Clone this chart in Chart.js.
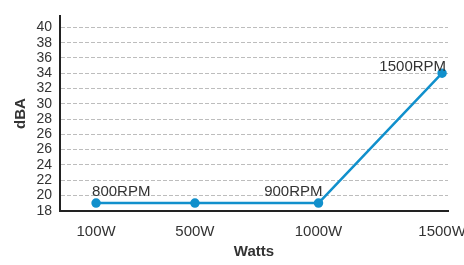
<!DOCTYPE html>
<html>
<head>
<meta charset="utf-8">
<script src="https://cdn.jsdelivr.net/npm/chart.js@4/dist/chart.umd.min.js"></script>
<style>
  html, body { margin: 0; padding: 0; background: #fff; }
  #wrap { width: 464px; height: 265px; }
</style>
</head>
<body>
<div id="wrap"><canvas id="noise-chart"></canvas></div>
<script>
// Fan noise vs. PSU load
const wattLabels = ['100W', '500W', '1000W', '1500W'];
const watts = [100, 500, 1000, 1500];
const dBA = [19, 19, 19, 34];
const rpmLabels = ['800RPM', '', '900RPM', '1500RPM'];
// y tick labels bottom to top, as printed (26 appears twice)
const yTickLabels = ['18', '20', '22', '24', '26', '26', '28', '30', '32', '34', '36', '38', '40'];

const FONT = "'Liberation Sans', Arial, sans-serif";
const BLUE = '#1190cc';

// map a dBA value onto the printed tick slots
function tickPos(v) {
    const nums = yTickLabels.map(Number);
    for (let i = 0; i < nums.length - 1; i++) {
        if (nums[i] === nums[i + 1]) continue;
        if (v >= nums[i] && v <= nums[i + 1]) {
            return i + (v - nums[i]) / (nums[i + 1] - nums[i]);
        }
    }
    return 0;
}

// RPM captions next to the points
const rpmPlugin = {
    id: 'rpmLabels',
    afterDatasetsDraw(chart) {
        const ctx = chart.ctx;
        const pts = chart.getDatasetMeta(0).data;
        const place = [
            { align: 'left', dx: -4, dy: -7 },
            null,
            { align: 'right', dx: 4, dy: -7 },
            { align: 'right', dx: 4, dy: -2 },
        ];
        ctx.save();
        ctx.font = '15px ' + FONT;
        ctx.fillStyle = '#333';
        ctx.textBaseline = 'alphabetic';
        rpmLabels.forEach((txt, i) => {
            if (!txt || !place[i]) return;
            ctx.textAlign = place[i].align;
            ctx.fillText(txt, pts[i].x + place[i].dx, pts[i].y + place[i].dy);
        });
        ctx.restore();
    }
};

const ctx = document.getElementById('noise-chart').getContext('2d');
const noiseChart = new Chart(ctx, {
    type: 'line',
    data: {
        datasets: [{
            label: 'Noise',
            data: watts.map((w, i) => ({ x: w, y: tickPos(dBA[i]) })),
            borderColor: BLUE,
            backgroundColor: BLUE,
            borderWidth: 2.5,
            pointRadius: 3.5,
            pointHoverRadius: 3.5,
            tension: 0,
            borderJoinStyle: 'round',
            fill: false,
        }]
    },
    options: {
        responsive: true,
        maintainAspectRatio: false,
        animation: false,
        layout: { padding: { top: 9, right: 16, left: 0, bottom: 0 } },
        plugins: {
            legend: { display: false },
            tooltip: { enabled: false },
        },
        scales: {
            x: {
                type: 'linear',
                min: -46,
                max: 1524,
                afterBuildTicks: (scale) => { scale.ticks = watts.map(v => ({ value: v })); },
                afterFit: (scale) => {
                    scale.height = 54.3;
                    scale.paddingLeft = 0;
                    scale.paddingRight = 0;
                },
                grid: { display: false, drawTicks: false },
                border: { display: true, color: '#222', width: 2 },
                ticks: {
                    color: '#333',
                    font: { family: FONT, size: 15 },
                    padding: 12,
                    maxRotation: 0,
                    autoSkip: false,
                    callback: (v) => wattLabels[watts.indexOf(v)],
                },
                title: {
                    display: true,
                    text: 'Watts',
                    color: '#333',
                    font: { family: FONT, size: 15, weight: 'bold' },
                    padding: { top: 7 },
                },
            },
            y: {
                type: 'linear',
                min: 0,
                max: 12.72,
                afterBuildTicks: (scale) => { scale.ticks = yTickLabels.map((_, i) => ({ value: i })); },
                afterFit: (scale) => { scale.width = 60; },
                grid: {
                    color: '#bdbdbd',
                    lineWidth: 1,
                    drawTicks: false,
                },
                border: { display: true, color: '#222', width: 2, dash: [4, 2] },
                ticks: {
                    color: '#333',
                    font: { family: FONT, size: 14 },
                    padding: 8,
                    autoSkip: false,
                    callback: (v) => yTickLabels[v],
                },
                title: {
                    display: true,
                    text: 'dBA',
                    color: '#333',
                    font: { family: FONT, size: 15, weight: 'bold' },
                    padding: { top: 12, bottom: 0 },
                },
            },
        },
    },
    plugins: [rpmPlugin],
});
</script>
</body>
</html>
